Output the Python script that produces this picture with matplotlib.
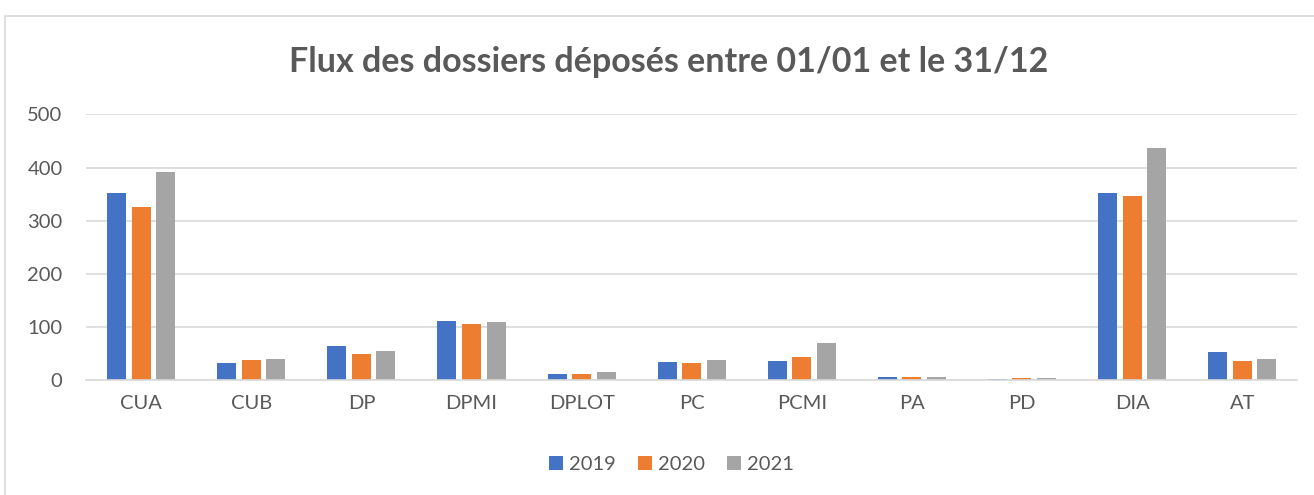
import numpy as np
import matplotlib.pyplot as plt
from matplotlib.patches import Rectangle

# Data
categories = ["CUA", "CUB", "DP", "DPMI", "DPLOT", "PC", "PCMI", "PA", "PD", "DIA", "AT"]
years = ["2019", "2020", "2021"]
vals_2019 = [352, 32, 64, 111, 11, 33, 35, 5, 2, 352, 52]
vals_2020 = [325, 37, 49, 106, 11, 32, 44, 6, 4, 347, 35]
vals_2021 = [391, 39, 55, 109, 15, 38, 69, 5, 4, 437, 40]
colors = ["#4472C4", "#ED7D31", "#A5A5A5"]

plt.rcParams["font.family"] = ["Lato", "DejaVu Sans"]
text_color = "#595959"
grid_color = "#D9D9D9"

fig = plt.figure(figsize=(13.14, 4.95), dpi=100)
ax = fig.add_axes([0.0656, 0.2323, 0.9216, 0.5366])

# chart border
fig.patches.append(Rectangle((0.004, -0.01), 1.1, 0.978, transform=fig.transFigure,
                             fill=False, edgecolor=grid_color, linewidth=1.2))

x = np.arange(len(categories))
width = 0.173
pitch = 0.223
for i, (vals, c, lab) in enumerate(zip([vals_2019, vals_2020, vals_2021], colors, years)):
    ax.bar(x + (i - 1) * pitch, vals, width, color=c, linewidth=0,
           label=lab, zorder=3)

ax.set_xlim(-0.5, len(categories) - 0.5)
ax.set_ylim(0, 500)
ax.set_yticks(range(0, 501, 100))
ax.set_xticks(x)
ax.set_xticklabels(categories)
ax.tick_params(axis="both", length=0, labelsize=14.5, labelcolor=text_color)
ax.tick_params(axis="y", pad=17)
ax.tick_params(axis="x", pad=11)

ax.grid(axis="y", color=grid_color, linewidth=1.2, zorder=0)
for s in ["top", "right", "left"]:
    ax.spines[s].set_visible(False)
ax.spines["bottom"].set_color(grid_color)
ax.spines["bottom"].set_linewidth(1.2)
ax.spines["bottom"].set_zorder(4)

fig.text(0.509, 0.875, "Flux des dossiers déposés entre 01/01 et le 31/12",
         ha="center", va="center", fontsize=24.5, fontweight="bold", color=text_color)

leg = fig.legend(loc="center", bbox_to_anchor=(0.511, 0.062), ncol=3, frameon=False,
                 fontsize=14.5, handlelength=0.7, handleheight=0.7, handletextpad=0.3,
                 columnspacing=1.1)
for t in leg.get_texts():
    t.set_color(text_color)

plt.savefig("out.png", dpi=100)
plt.close()
